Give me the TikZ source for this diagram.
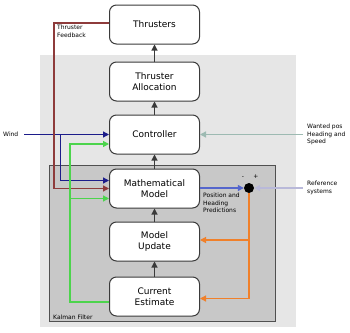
\documentclass[tikz,border=0pt]{standalone}
\usepackage{fontspec}
\setmainfont{DejaVu Sans}
\usepackage{tikz}
\usetikzlibrary{arrows.meta,calc}
\definecolor{outerbg}{HTML}{E6E6E6}
\definecolor{kalmanbg}{HTML}{C8C8C8}
\definecolor{kalmanline}{HTML}{505050}
\definecolor{boxline}{HTML}{3A3A3A}
\definecolor{windcol}{HTML}{1C1C8A}
\definecolor{fbcol}{HTML}{8E3B3B}
\definecolor{estcol}{HTML}{4CD44C}
\definecolor{predcol}{HTML}{5566CC}
\definecolor{corrcol}{HTML}{F0802A}
\definecolor{wantcol}{HTML}{9DBAB2}
\definecolor{refcol}{HTML}{B9B9D9}

\begin{document}
\begin{tikzpicture}[x=1pt,y=-1pt,font=\fontsize{9}{10.5}\selectfont,
  blk/.style={draw=boxline,line width=1pt,rounded corners=7pt,fill=white,minimum width=90pt,minimum height=39pt,align=center,inner sep=1pt},
  lbl/.style={font=\fontsize{6}{7.5}\selectfont,align=left,inner sep=0pt},
  flow/.style={line width=1.2pt,-{Triangle[length=6pt,width=6pt]}}]
  \useasboundingbox (0,0) rectangle (350,332);
  % frames
  \fill[outerbg] (40,55) rectangle (296,327);
  \draw[fill=kalmanbg,draw=kalmanline,line width=0.8pt] (49.5,165.5) rectangle (275.5,321.5);
  \node[lbl,anchor=south west] (kf) at (53,320) {Kalman Filter};
  % blocks
  \node[blk] (thr) at (154.5,24.5) {Thrusters};
  \node[blk] (alloc) at (154.5,81.5) {Thruster\\Allocation};
  \node[blk] (ctrl) at (154.5,134.5) {Controller};
  \node[blk] (math) at (154.5,188.5) {Mathematical\\Model};
  \node[blk] (upd) at (154.5,241.5) {Model\\Update};
  \node[blk] (est) at (154.5,296.5) {Current\\Estimate};
  \node[circle,fill=black,minimum size=10pt,inner sep=0pt] (sum) at (249,188) {};
  \node[lbl] (minus) at (243,178) {-};
  \node[lbl] (plus) at (256,177) {+};
  \foreach \a/\b in {est/upd,upd/math,math/ctrl,ctrl/alloc,alloc/thr}
    \draw[flow,boxline,line width=1.1pt] (\a.north) -- (\b.south);
  % inputs
  \node[lbl,anchor=west] (wind) at (3,134.5) {Wind};
  \draw[flow,windcol] (wind.east) ++(6,0) -- (ctrl.west);
  \coordinate (windsplit) at (60.5,134.5);
  \draw[flow,windcol] (windsplit) |- ($(math.west)+(0,-8)$);
  \node[lbl,anchor=north west] (fbtext) at (57,25) {Thruster\\Feedback};
  \draw[flow,fbcol] ($(thr.west)+(0,-1.5)$) -- ++(-55,0) |- (math.west);
  \draw[flow,estcol] ($(est.west)+(0,5.5)$) -- ++(-39,0) |- ($(ctrl.west)+(0,9.5)$);
  \coordinate (estsplit) at (70.5,198.5);
  \draw[flow,estcol] (estsplit) -- ($(math.west)+(0,10)$);
  \node[lbl,anchor=west] (want) at (307,134.5) {Wanted pos\\Heading and\\Speed};
  \draw[flow,wantcol] ($(want.west)+(-4,0)$) -- (ctrl.east);
  \node[lbl,anchor=west] (ref) at (307,188) {Reference\\systems};
  \draw[flow,refcol] ($(ref.west)+(-4,0)$) -- (sum.east);
  % kalman loop
  \draw[flow,predcol] (math.east |- sum) -- (sum.west);
  \node[lbl,anchor=north west] (predtext) at (203,193) {Position and\\Heading\\Predictions};
  \draw[flow,corrcol] (sum.south) |- ($(est.east)+(0,2)$);
  \coordinate (corrsplit) at (249,240);
  \draw[flow,corrcol] (corrsplit) -- ($(upd.east)+(0,-1.5)$);
\end{tikzpicture}
\end{document}
